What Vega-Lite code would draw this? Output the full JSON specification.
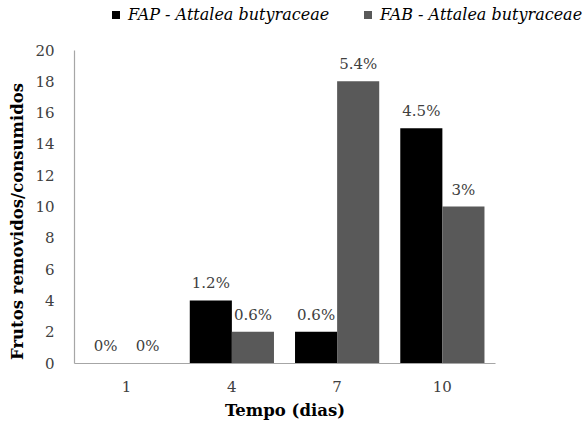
{
  "$schema": "https://vega.github.io/schema/vega-lite/v6.json",
  "autosize": {"type": "none"},
  "padding": {"left": 74, "top": 50, "right": 89, "bottom": 60},
  "width": 421,
  "height": 313,
  "background": "white",
  "config": {
    "font": "DejaVu Serif",
    "view": {"stroke": null},
    "axis": {"grid": false, "ticks": false, "domainColor": "#a6a6a6", "domainWidth": 1.2, "labelFont": "DejaVu Serif", "labelFontSize": 15, "labelColor": "#404040", "titleFont": "DejaVu Serif", "titleFontSize": 16.5, "titleFontWeight": "bold", "titleColor": "#000000"}
  },
  "data": {"values": [
    {"dia": "1", "serie": "FAP - Attalea butyraceae", "valor": 0, "rotulo": "0%"},
    {"dia": "1", "serie": "FAB - Attalea butyraceae", "valor": 0, "rotulo": "0%"},
    {"dia": "4", "serie": "FAP - Attalea butyraceae", "valor": 4, "rotulo": "1.2%"},
    {"dia": "4", "serie": "FAB - Attalea butyraceae", "valor": 2, "rotulo": "0.6%"},
    {"dia": "7", "serie": "FAP - Attalea butyraceae", "valor": 2, "rotulo": "0.6%"},
    {"dia": "7", "serie": "FAB - Attalea butyraceae", "valor": 18, "rotulo": "5.4%"},
    {"dia": "10", "serie": "FAP - Attalea butyraceae", "valor": 15, "rotulo": "4.5%"},
    {"dia": "10", "serie": "FAB - Attalea butyraceae", "valor": 10, "rotulo": "3%"}
  ]},
  "encoding": {
    "x": {"field": "dia", "type": "ordinal", "sort": ["1", "4", "7", "10"],
          "scale": {"paddingInner": 0.2, "paddingOuter": 0.1},
          "axis": {"title": "Tempo (dias)", "labelAngle": 0, "labelPadding": 16, "titlePadding": 8}},
    "xOffset": {"field": "serie", "type": "nominal", "sort": ["FAP - Attalea butyraceae", "FAB - Attalea butyraceae"], "scale": {"paddingInner": 0, "paddingOuter": 0}},
    "y": {"field": "valor", "type": "quantitative",
          "scale": {"domain": [0, 20], "nice": false},
          "axis": {"title": "Frutos removidos/consumidos", "values": [0, 2, 4, 6, 8, 10, 12, 14, 16, 18, 20], "labelPadding": 20, "titlePadding": 9, "titleY": 171}}
  },
  "layer": [
    {
      "mark": {"type": "bar"},
      "encoding": {
        "color": {"field": "serie", "type": "nominal",
                  "sort": ["FAP - Attalea butyraceae", "FAB - Attalea butyraceae"],
                  "scale": {"domain": ["FAP - Attalea butyraceae", "FAB - Attalea butyraceae"], "range": ["#000000", "#595959"]},
                  "legend": {"title": null, "orient": "none", "legendX": 34, "legendY": -43, "direction": "horizontal",
                             "symbolType": "square", "symbolSize": 64, "symbolStrokeWidth": 0, "symbolOpacity": 1,
                             "labelFont": "DejaVu Serif", "labelFontSize": 16, "labelFontStyle": "italic", "labelColor": "#000000",
                             "columnPadding": 30, "labelOffset": 4, "labelLimit": 300}}
      }
    },
    {
      "mark": {"type": "text", "baseline": "bottom", "dy": -9, "fontSize": 15, "color": "#404040", "font": "DejaVu Serif"},
      "encoding": {"text": {"field": "rotulo", "type": "nominal"}}
    }
  ]
}
